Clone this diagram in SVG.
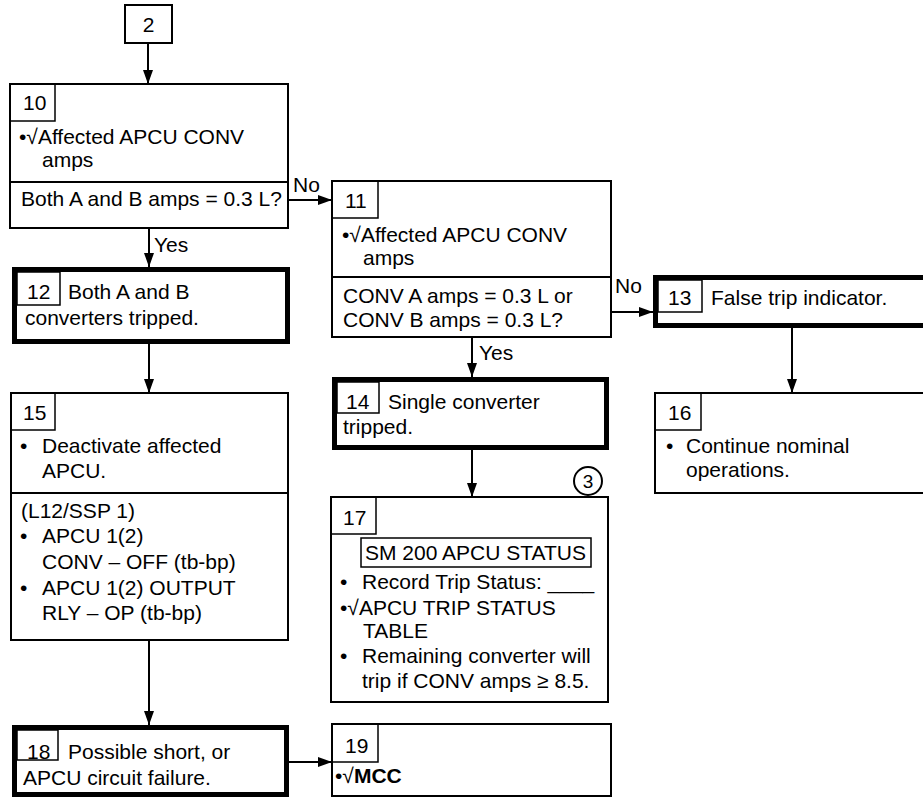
<svg xmlns="http://www.w3.org/2000/svg" width="923" height="801" viewBox="0 0 923 801">
<style>
text{font-family:"Liberation Sans",Arial,sans-serif;font-size:21px;fill:#000}
.b{font-weight:bold}
.box{fill:#fff;stroke:#000;stroke-width:2}
.thick{fill:#fff;stroke:#000;stroke-width:5}
.lbl{fill:none;stroke:#000;stroke-width:1.5}
.div{stroke:#000;stroke-width:2}
.c{fill:none;stroke:#000;stroke-width:2;marker-end:url(#ah)}
</style>
<defs>
<marker id="ah" viewBox="0 0 14 10" refX="14" refY="5" markerWidth="14" markerHeight="10" orient="auto" markerUnits="userSpaceOnUse">
<path d="M0,0 L14,5 L0,10 z" fill="#000"/>
</marker>
</defs>
<rect width="923" height="801" fill="#fff"/>
<g id="connectors">
<path class="c" d="M148,43 V84"/>
<path class="c" d="M288,200 H332"/>
<path class="c" d="M149,228 V267"/>
<path class="c" d="M611,312 H653"/>
<path class="c" d="M472,337 V377"/>
<path class="c" d="M792,328 V393"/>
<path class="c" d="M149,344 V393"/>
<path class="c" d="M472,450 V497"/>
<path class="c" d="M149,640 V725"/>
<path class="c" d="M289,762 H332"/>
<text x="293" y="192">No</text>
<text x="154" y="252">Yes</text>
<text x="615" y="293">No</text>
<text x="479" y="360">Yes</text>
</g>
<g id="n2">
<rect class="box" x="125" y="5" width="47" height="38"/>
<text x="148.5" y="32" text-anchor="middle">2</text>
</g>
<g id="n10">
<rect class="box" x="10" y="84" width="278" height="144"/>
<rect class="lbl" x="10" y="84" width="45" height="37"/>
<text x="23" y="110">10</text>
<text x="19" y="144">•√Affected APCU CONV</text>
<text x="42" y="167">amps</text>
<line class="div" x1="10" y1="182" x2="288" y2="182"/>
<text x="21" y="206">Both A and B amps = 0.3 L?</text>
</g>
<g id="n11">
<rect class="box" x="332" y="181" width="279" height="156"/>
<rect class="lbl" x="332" y="181" width="46" height="37"/>
<text x="345" y="208">11</text>
<text x="342" y="242">•√Affected APCU CONV</text>
<text x="363" y="265">amps</text>
<line class="div" x1="332" y1="277" x2="611" y2="277"/>
<text x="343" y="303">CONV A amps = 0.3 L or</text>
<text x="343" y="327">CONV B amps = 0.3 L?</text>
</g>
<g id="n12">
<rect class="thick" x="14.5" y="269.5" width="273" height="72"/>
<rect class="lbl" x="17" y="272" width="43" height="33"/>
<text x="27" y="299">12</text>
<text x="68" y="299">Both A and B</text>
<text x="25" y="325">converters tripped.</text>
</g>
<g id="n13">
<rect class="thick" x="655.5" y="277.5" width="270" height="48"/>
<rect class="lbl" x="658" y="280" width="44" height="32"/>
<text x="668" y="305">13</text>
<text x="711" y="305">False trip indicator.</text>
</g>
<g id="n14">
<rect class="thick" x="334.5" y="379.5" width="272" height="68"/>
<rect class="lbl" x="337" y="382" width="42" height="31"/>
<text x="346" y="409">14</text>
<text x="388" y="409">Single converter</text>
<text x="343" y="434">tripped.</text>
</g>
<g id="n15">
<rect class="box" x="11" y="393" width="277" height="247"/>
<rect class="lbl" x="11" y="393" width="44" height="37"/>
<text x="23" y="420">15</text>
<text x="20" y="453">•</text>
<text x="42" y="453">Deactivate affected</text>
<text x="42" y="478">APCU.</text>
<line class="div" x1="11" y1="493" x2="288" y2="493"/>
<text x="21" y="518">(L12/SSP 1)</text>
<text x="20" y="543">•</text>
<text x="42" y="543">APCU 1(2)</text>
<text x="42" y="569">CONV – OFF (tb-bp)</text>
<text x="20" y="595">•</text>
<text x="42" y="595">APCU 1(2) OUTPUT</text>
<text x="42" y="620">RLY – OP (tb-bp)</text>
</g>
<g id="n16">
<rect class="box" x="655" y="393" width="270" height="100"/>
<rect class="lbl" x="655" y="393" width="46" height="37"/>
<text x="668" y="420">16</text>
<text x="666" y="453">•</text>
<text x="686" y="453">Continue nominal</text>
<text x="686" y="477">operations.</text>
</g>
<g id="n17">
<circle cx="588" cy="481" r="14" fill="#fff" stroke="#000" stroke-width="2"/>
<text x="588" y="488" text-anchor="middle" style="font-size:19px">3</text>
<rect class="box" x="331" y="497" width="277" height="205"/>
<rect class="lbl" x="331" y="497" width="45" height="37"/>
<text x="343" y="525">17</text>
<rect class="lbl" x="361" y="538" width="230" height="29"/>
<text x="365" y="560">SM 200 APCU STATUS</text>
<text x="340" y="589">•</text>
<text x="362" y="589">Record Trip Status: ____</text>
<text x="340" y="615">•√APCU TRIP STATUS</text>
<text x="363" y="638">TABLE</text>
<text x="340" y="663">•</text>
<text x="362" y="663">Remaining converter will</text>
<text x="362" y="688">trip if CONV amps ≥ 8.5.</text>
</g>
<g id="n18">
<rect class="thick" x="14.5" y="727.5" width="272" height="67"/>
<rect class="lbl" x="17" y="730" width="41" height="30"/>
<text x="27" y="759">18</text>
<text x="68" y="759">Possible short, or</text>
<text x="23" y="785">APCU circuit failure.</text>
</g>
<g id="n19">
<rect class="box" x="332" y="724" width="279" height="72"/>
<rect class="lbl" x="332" y="724" width="46" height="38"/>
<text x="345" y="753">19</text>
<text x="335" y="783">•√<tspan class="b">MCC</tspan></text>
</g>
</svg>
